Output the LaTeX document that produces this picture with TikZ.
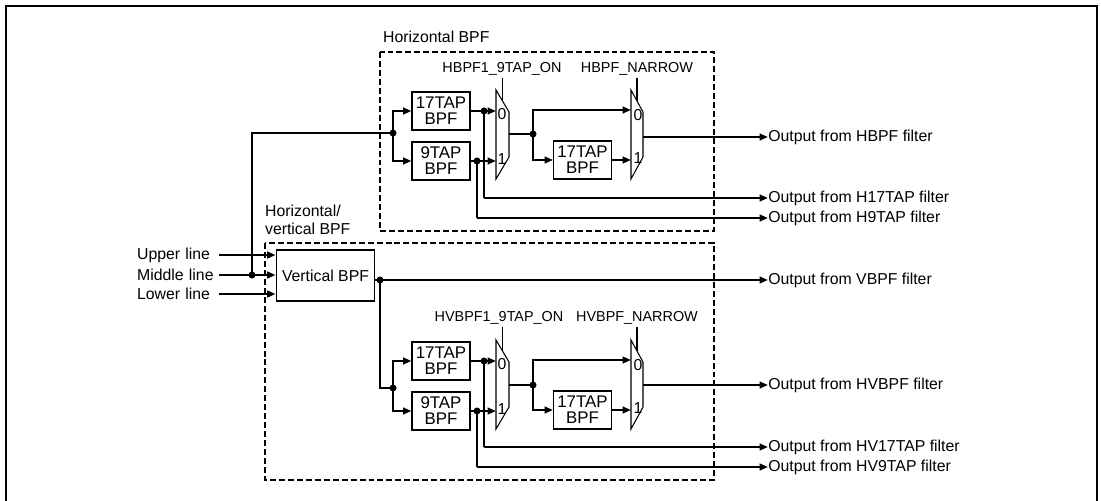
\documentclass[tikz,border=0pt]{standalone}
\usepackage{fontspec}
\setmainfont{Liberation Sans}
\usetikzlibrary{arrows.meta}

\begin{document}
\begin{tikzpicture}[x=0.02cm,y=-0.02cm,
  every node/.style={font=\fontsize{9}{9.5}\selectfont},
  bpf/.style={draw,line width=0.6pt,minimum width=1.16cm,minimum height=0.76cm,inner sep=0pt,align=center,font=\fontsize{9.6}{9.1}\selectfont},
  wire/.style={line width=0.6pt},
  arr/.style={line width=1.3pt,-{Triangle[length=4.8pt,width=3.8pt]}},
  mux/.style={draw,line width=0.6pt},
  dashbox/.style={line width=1.1pt,dash pattern=on 3.4pt off 1.7pt},
  sel/.style={font=\fontsize{8.2}{9}\selectfont,inner sep=1pt},
  outlbl/.style={anchor=west,inner sep=0pt},
  inlbl/.style={anchor=west,text width=1.6cm,align=left,inner sep=1pt},
  bit/.style={inner sep=0pt}]
\useasboundingbox (0,0) rectangle (1101,500);
\draw[line width=1.1pt] (6,503) -- (6,6) -- (1097,6) -- (1097,503);

% dashed groups
\draw[dashbox] (380,52) rectangle (714,231);
\node[anchor=west,inner sep=1pt] (htitle) at (381,37) {Horizontal BPF};
\draw[dashbox] (265,243) rectangle (714,480);
\node[anchor=west,align=left,inner sep=1pt,font=\fontsize{9}{10.2}\selectfont] (hvtitle) at (263,220) {Horizontal/\\vertical BPF};

% inputs and vertical BPF
\node[inlbl] (upper) at (135,255) {Upper line};
\node[inlbl] (middle) at (135,275) {Middle line};
\node[inlbl] (lower) at (135,294) {Lower line};
\node[draw,line width=0.6pt,minimum width=1.94cm,minimum height=1.02cm] (vbpf) at (325.5,275.5) {Vertical BPF};
\draw[arr] (upper.east) -- (upper.east -| vbpf.west);
\draw[arr] (middle.east) -- (middle.east -| vbpf.west);
\draw[arr] (lower.east) -- (lower.east -| vbpf.west);
\coordinate (mdot) at (252,275);

% outputs
\node[outlbl] (oh) at (768,137) {Output from HBPF filter};
\node[outlbl] (oh17) at (768,198) {Output from H17TAP filter};
\node[outlbl] (oh9) at (768,218) {Output from H9TAP filter};
\node[outlbl] (ov) at (768,280) {Output from VBPF filter};
\node[outlbl] (ohv) at (768,385) {Output from HVBPF filter};
\node[outlbl] (ohv17) at (768,447) {Output from HV17TAP filter};
\node[outlbl] (ohv9) at (768,467) {Output from HV9TAP filter};

% horizontal BPF
\coordinate (hbr) at (393,133);
\draw[wire] (mdot) |- (hbr);
\node[bpf] (h17) at (441,111) {17TAP\\BPF};
\node[bpf] (h9) at (441,161) {9TAP\\BPF};
\draw[arr] (hbr) |- (h17.west);
\draw[arr] (hbr) |- (h9.west);
\draw[mux] (496,90) -- (509,112) -- (509,157) -- (496,179) -- cycle;
\coordinate (hm1a) at (496,111);
\coordinate (hm1b) at (496,161);
\coordinate (hm1y) at (509,134);
\coordinate (hm1s) at (502.5,101);
\node[bit] (hm1z) at (502,114) {0};
\node[bit] (hm1o) at (502,159) {1};
\node[sel] (hsel1) at (502,69) {HBPF1\_9TAP\_ON};
\draw[wire] (hsel1.south -| hm1s) -- (hm1s);
\draw[arr] (h17.east) -- (hm1a);
\draw[arr] (h9.east) -- (hm1b);
\coordinate (hd17) at (484,111);
\coordinate (hd9) at (477,161);
\draw[wire] (hd17) -- (hd17 |- oh17.west);
\draw[arr] (hd17 |- oh17.west) -- (oh17.west);
\draw[wire] (hd9) -- (hd9 |- oh9.west);
\draw[arr] (hd9 |- oh9.west) -- (oh9.west);
\coordinate (hj) at (533,134);
\draw[wire] (hm1y) -- (hj);
\draw[mux] (631,90) -- (643,112) -- (643,157) -- (631,179) -- cycle;
\coordinate (hm2a) at (631,110);
\coordinate (hm2b) at (631,160);
\coordinate (hm2y) at (643,137);
\coordinate (hm2s) at (637,101);
\node[bit] (hm2z) at (638,115) {0};
\node[bit] (hm2o) at (638,158) {1};
\node[sel] (hsel2) at (637,69) {HBPF\_NARROW};
\draw[wire] (hsel2.south -| hm2s) -- (hm2s);
\node[bpf] (hn17) at (582.5,160) {17TAP\\BPF};
\draw[arr] (hj) |- (hm2a);
\draw[arr] (hj) |- (hn17.west);
\draw[arr] (hn17.east) -- (hm2b);
\draw[arr] (hm2y) -- (oh.west);
\fill (mdot) circle (2pt);
\fill (hbr) circle (2pt);
\fill (hd17) circle (2pt);
\fill (hd9) circle (2pt);
\fill (hj) circle (2pt);

% horizontal/vertical BPF
\coordinate (vd) at (380,280);
\draw[arr] (vbpf.east |- vd) -- (ov.west);
\coordinate (hvbr) at (393,388);
\draw[wire] (vd) |- (hvbr);
\node[bpf] (hv17) at (441,361) {17TAP\\BPF};
\node[bpf] (hv9) at (441,411) {9TAP\\BPF};
\draw[arr] (hvbr) |- (hv17.west);
\draw[arr] (hvbr) |- (hv9.west);
\draw[mux] (496,340) -- (509,362) -- (509,407) -- (496,429) -- cycle;
\coordinate (hvm1a) at (496,361);
\coordinate (hvm1b) at (496,411);
\coordinate (hvm1y) at (509,385);
\coordinate (hvm1s) at (502.5,351);
\node[bit] (hvm1z) at (502,364) {0};
\node[bit] (hvm1o) at (502,409) {1};
\node[sel] (hvsel1) at (499,318) {HVBPF1\_9TAP\_ON};
\draw[wire] (hvsel1.south -| hvm1s) -- (hvm1s);
\draw[arr] (hv17.east) -- (hvm1a);
\draw[arr] (hv9.east) -- (hvm1b);
\coordinate (hvd17) at (484,361);
\coordinate (hvd9) at (477,411);
\draw[wire] (hvd17) -- (hvd17 |- ohv17.west);
\draw[arr] (hvd17 |- ohv17.west) -- (ohv17.west);
\draw[wire] (hvd9) -- (hvd9 |- ohv9.west);
\draw[arr] (hvd9 |- ohv9.west) -- (ohv9.west);
\coordinate (hvj) at (533,385);
\draw[wire] (hvm1y) -- (hvj);
\draw[mux] (631,340) -- (643,362) -- (643,407) -- (631,429) -- cycle;
\coordinate (hvm2a) at (631,360);
\coordinate (hvm2b) at (631,410);
\coordinate (hvm2y) at (643,385);
\coordinate (hvm2s) at (637,351);
\node[bit] (hvm2z) at (638,365) {0};
\node[bit] (hvm2o) at (638,408) {1};
\node[sel] (hvsel2) at (637,318) {HVBPF\_NARROW};
\draw[wire] (hvsel2.south -| hvm2s) -- (hvm2s);
\node[bpf] (hvn17) at (582.5,410) {17TAP\\BPF};
\draw[arr] (hvj) |- (hvm2a);
\draw[arr] (hvj) |- (hvn17.west);
\draw[arr] (hvn17.east) -- (hvm2b);
\draw[arr] (hvm2y) -- (ohv.west);
\fill (vd) circle (2pt);
\fill (hvbr) circle (2pt);
\fill (hvd17) circle (2pt);
\fill (hvd9) circle (2pt);
\fill (hvj) circle (2pt);
\end{tikzpicture}
\end{document}
